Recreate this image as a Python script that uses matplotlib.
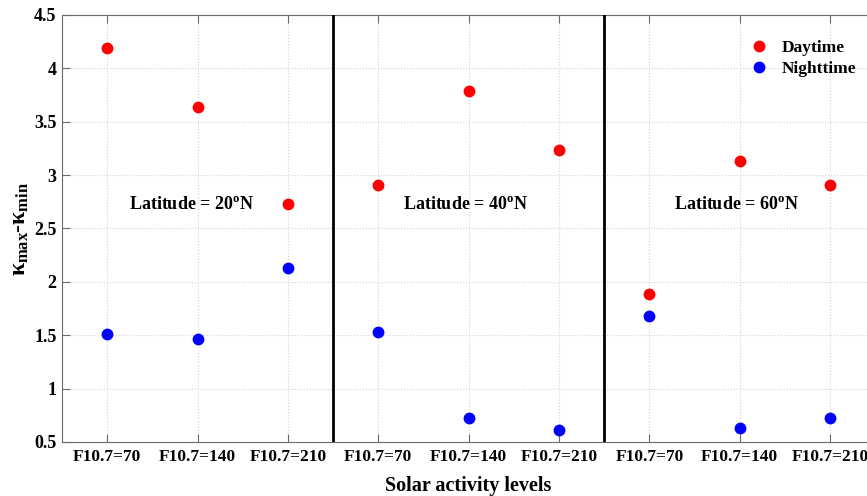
import numpy as np
import matplotlib
matplotlib.use("Agg")
from matplotlib import pyplot as plt

plt.rcParams['font.family'] = ['Liberation Serif', 'DejaVu Serif']
plt.rcParams['font.weight'] = 'bold'
plt.rcParams['mathtext.fontset'] = 'custom'
plt.rcParams['mathtext.rm'] = 'Liberation Serif:bold'
plt.rcParams['mathtext.it'] = 'Liberation Serif:bold'
plt.rcParams['mathtext.bf'] = 'Liberation Serif:bold'

levels = ["F10.7=70", "F10.7=140", "F10.7=210"] * 3
latitudes = ["20", "40", "60"]
daytime = [4.19, 3.64, 2.73, 2.91, 3.79, 3.23, 1.89, 3.13, 2.91]
nighttime = [1.51, 1.46, 2.13, 1.53, 0.72, 0.61, 1.68, 0.63, 0.72]
yticks = [0.5, 1, 1.5, 2, 2.5, 3, 3.5, 4, 4.5]

x = np.arange(1, len(levels) + 1)

fig = plt.figure(figsize=(8.67, 4.96), dpi=100)
ax = fig.add_axes([0.0715, 0.109, 0.938, 0.861])

ax.plot(x, daytime, 'o', color='red', markersize=7.5, label='Daytime', zorder=3)
ax.plot(x, nighttime, 'o', color='blue', markersize=7.5, label='Nighttime', zorder=3)

# group separators
for xv in [3.5, 6.5]:
    ax.axvline(xv, color='black', linewidth=2, zorder=4)

for xc, lat in zip([1.93, 4.97, 7.96], latitudes):
    ax.text(xc, 2.72, "Latitude = " + lat + r"$^{\mathrm{o}}$N", ha='center', va='center',
            fontsize=13, fontweight='bold')

ax.set_xlim(0.5, 9.5)
ax.set_ylim(0.5, 4.5)
ax.set_xticks(x)
ax.set_xticklabels(levels, fontsize=12.5, fontweight='bold')
ax.set_yticks(yticks)
ax.set_yticklabels([f"{v:g}" for v in yticks], fontsize=13, fontweight='bold')
ax.tick_params(direction='in', length=6, color='dimgray', top=True, right=False)
ax.tick_params(axis='y', pad=4)
ax.tick_params(axis='x', pad=5)

ax.grid(True, linestyle=':', color='lightgray', linewidth=0.8)
for s in ax.spines.values():
    s.set_color('dimgray')

ax.set_xlabel("Solar activity levels", fontsize=14.5, fontweight='bold', labelpad=8)
ax.set_ylabel(r"$\kappa_{\mathrm{max}}$-$\kappa_{\mathrm{min}}$", fontsize=17, labelpad=2)

ax.legend(loc='upper right', bbox_to_anchor=(0.992, 0.97), frameon=False, fontsize=12.5,
          handletextpad=0.35, borderaxespad=0.3, labelspacing=0.3)

fig.savefig("out.png", dpi=100)
